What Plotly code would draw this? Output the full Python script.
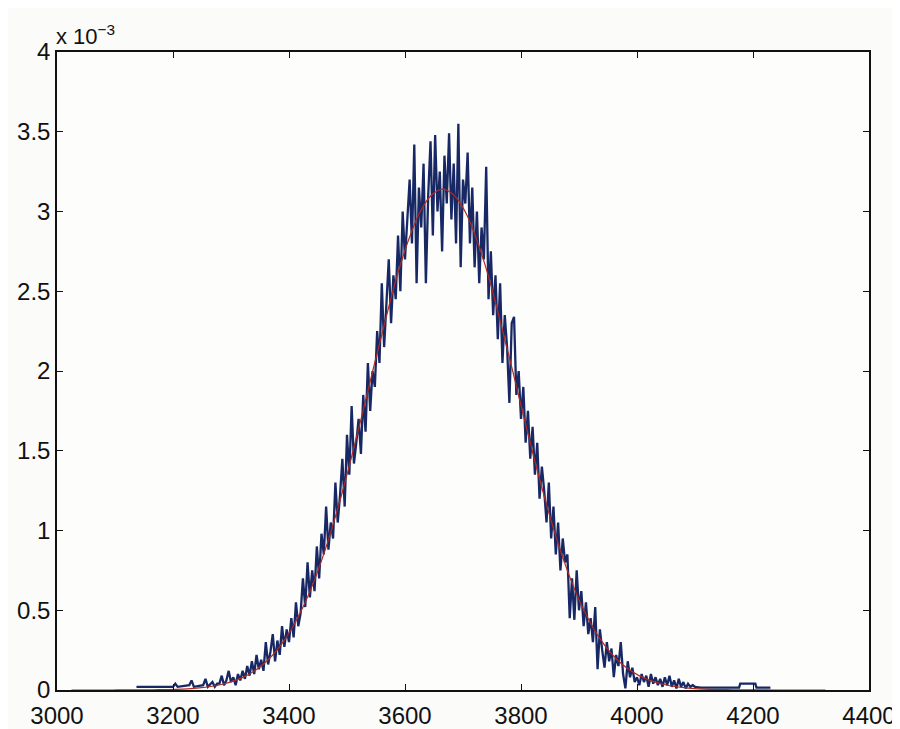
import plotly.graph_objects as go

# ---- data (y in units of 1e-3) ----
# left flat tail of the histogram
tail_left_x = [3137, 3200, 3204, 3208, 3228, 3232, 3236, 3252, 3256, 3260, 3268, 3272, 3276]
tail_left_y = [0.02, 0.02, 0.04, 0.02, 0.03, 0.06, 0.02, 0.03, 0.07, 0.02, 0.05, 0.02, 0.04]

# noisy core of the histogram, bins starting at 3280, every 4 units
core_start = 3280
core_step = 4
core_y = [
    0.04, 0.09, 0.03, 0.06, 0.12, 0.05, 0.08, 0.03, 0.10, 0.06,
    0.12, 0.07, 0.15, 0.09, 0.18, 0.10, 0.22, 0.13, 0.19, 0.12,
    0.30, 0.16, 0.24, 0.35, 0.18, 0.31, 0.22, 0.40, 0.27, 0.38,
    0.30, 0.45, 0.33, 0.55, 0.40, 0.48, 0.70, 0.52, 0.80, 0.58,
    0.75, 0.62, 0.90, 0.70, 0.98, 0.85, 1.15, 0.88, 1.05, 0.95,
    1.30, 1.05, 1.22, 1.45, 1.15, 1.60, 1.35, 1.78, 1.42, 1.55,
    1.70, 1.48, 1.85, 1.62, 2.05, 1.75, 2.00, 1.90, 2.25, 2.05,
    2.55, 2.15, 2.40, 2.70, 2.30, 2.60, 2.45, 2.85, 2.50, 3.00,
    2.70, 2.95, 3.20, 2.80, 3.42, 2.55, 3.15, 2.90, 3.30, 2.55,
    3.10, 3.44, 2.85, 3.48, 3.00, 3.25, 2.75, 3.35, 3.05, 3.49,
    2.95, 3.30, 2.80, 3.55, 2.65, 3.20, 3.05, 3.37, 2.80, 3.15,
    2.65, 3.00, 2.55, 2.90, 2.70, 3.28, 2.45, 2.75, 2.35, 2.60,
    2.20, 2.55, 2.05, 2.35, 2.15, 1.80, 2.30, 2.34, 1.85, 2.00,
    1.70, 1.90, 1.55, 1.75, 1.45, 1.65, 1.35, 1.55, 1.20, 1.40,
    1.25, 1.05, 1.30, 0.95, 1.15, 0.85, 1.05, 0.75, 0.95, 0.80,
    0.85, 0.45, 0.70, 0.44, 0.75, 0.50, 0.62, 0.40, 0.55, 0.35,
    0.45, 0.30, 0.52, 0.13, 0.38, 0.25, 0.14, 0.30, 0.18, 0.26,
    0.08, 0.22, 0.15, 0.30, 0.10, 0.01, 0.18, 0.08, 0.14, 0.05,
    0.08, 0.03, 0.10, 0.05, 0.09, 0.02, 0.10, 0.04, 0.08, 0.03,
    0.07, 0.02, 0.08, 0.03, 0.09, 0.02, 0.06, 0.01, 0.07, 0.02,
    0.05, 0.01, 0.04, 0.02, 0.03, 0.02,
]

# right flat tail of the histogram
tail_right_x = [4110, 4176, 4178, 4204, 4206, 4230]
tail_right_y = [0.015, 0.015, 0.04, 0.04, 0.015, 0.015]

# fitted normal curve, sampled every 20 units
fit_x = [3025 + 20 * i for i in range(66)]
fit_y = [
    0, 0, 0.0001, 0.0001, 0.0002, 0.0004, 0.0008, 0.0013, 0.0025, 0.0044,
    0.0076, 0.013, 0.022, 0.036, 0.057, 0.087, 0.131, 0.193, 0.277, 0.386,
    0.526, 0.70, 0.908, 1.15, 1.42, 1.71, 2.01, 2.30, 2.58, 2.81,
    2.99, 3.10, 3.14, 3.10, 2.99, 2.81, 2.58, 2.30, 2.01, 1.71,
    1.42, 1.15, 0.908, 0.70, 0.526, 0.386, 0.277, 0.193, 0.131, 0.087,
    0.057, 0.036, 0.022, 0.013, 0.0076, 0.0044, 0.0025, 0.0013, 0.0008, 0.0004,
    0.0002, 0.0001, 0.0001, 0, 0, 0,
]

x_ticks = [3000, 3200, 3400, 3600, 3800, 4000, 4200, 4400]
y_ticks = [0, 0.5, 1, 1.5, 2, 2.5, 3, 3.5, 4]
y_tick_text = ["0", "0.5", "1", "1.5", "2", "2.5", "3", "3.5", "4"]

core_x = [core_start + core_step * i for i in range(len(core_y))]
blue_x = tail_left_x + core_x + tail_right_x
blue_y = tail_left_y + core_y + tail_right_y

fig = go.Figure()
fig.add_trace(go.Scatter(x=blue_x, y=blue_y, mode="lines",
                         line=dict(color="#172865", width=2.3), showlegend=False))
fig.add_trace(go.Scatter(x=fit_x, y=fit_y, mode="lines", line_shape="spline",
                         line=dict(color="#b02a20", width=1.2), showlegend=False))

font = dict(family="Liberation Sans, Arial, sans-serif", size=24, color="#111")
axis_common = dict(showgrid=False, zeroline=False, showline=True, linecolor="#111",
                   linewidth=1.5, mirror="ticks", ticks="inside", ticklen=6,
                   tickcolor="#111", tickwidth=1.3, automargin=False, tickfont=font)

fig.update_xaxes(range=[3000, 4400], tickvals=x_ticks, ticklabelstandoff=3, **axis_common)
fig.update_yaxes(range=[0, 4], tickvals=y_ticks, ticktext=y_tick_text, **axis_common)

fig.add_annotation(xref="paper", yref="paper", x=0, y=1, xanchor="left", yanchor="bottom",
                   xshift=-3, yshift=1, showarrow=False,
                   text="x 10<sup>\u22123</sup>",
                   font=dict(family="Liberation Sans, Arial, sans-serif", size=22, color="#111"))

# page body has an 8px margin, so the figure is sized to fit inside the window
fig.update_layout(width=892, height=721,
                  margin=dict(l=49, r=31, t=44, b=39),
                  paper_bgcolor="#fbfbf9", plot_bgcolor="#fdfdfb")

fig.write_html("out.html")
